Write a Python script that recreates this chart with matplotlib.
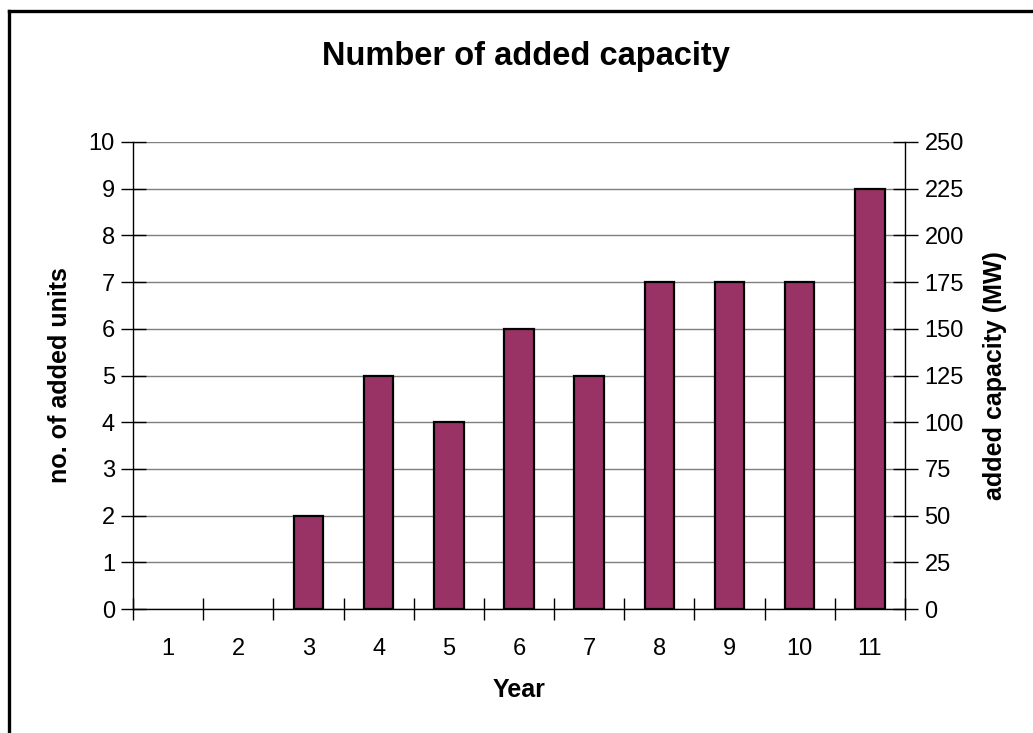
import matplotlib.pyplot as plt
from matplotlib.lines import Line2D

plt.rcParams["font.family"] = ["Liberation Sans", "DejaVu Sans"]

years = [1, 2, 3, 4, 5, 6, 7, 8, 9, 10, 11]
added_units = [0, 0, 2, 5, 4, 6, 5, 7, 7, 7, 9]
unit_ticks = [0, 1, 2, 3, 4, 5, 6, 7, 8, 9, 10]
capacity_ticks = [0, 25, 50, 75, 100, 125, 150, 175, 200, 225, 250]

BAR_COLOR = "#993366"
GRID_COLOR = "#7f7f7f"
TICK_SIZE = 17
LABEL_SIZE = 18

fig = plt.figure(figsize=(10.33, 7.33), dpi=100)
ax = fig.add_axes([133 / 1033, 1 - 609 / 733, (905 - 133) / 1033, (609 - 142) / 733])

bars = ax.bar(years, added_units, width=0.42, color=BAR_COLOR, edgecolor="black",
              linewidth=1.6, zorder=3)
# empty years have no visible column
for bar, value in zip(bars, added_units):
    if value == 0:
        bar.set_visible(False)

ax.set_xlim(0.5, 11.5)
ax.set_ylim(0, 10)
ax.set_yticks(unit_ticks)
ax.set_yticklabels([str(v) for v in unit_ticks], fontsize=TICK_SIZE)
ax.yaxis.grid(True, color=GRID_COLOR, linewidth=1.0, zorder=0)
ax.set_axisbelow(True)

# category labels centred, ticks on the boundaries between years
ax.set_xticks(years)
ax.set_xticklabels([str(y) for y in years], fontsize=TICK_SIZE)
ax.tick_params(axis="x", which="major", length=0, pad=21)
ax.set_xticks([0.5] + [y + 0.5 for y in years], minor=True)
ax.tick_params(axis="x", which="minor", direction="inout", length=16, width=1.0,
               color="black")
ax.tick_params(axis="y", direction="inout", length=18, width=1.0, pad=4,
               color="black")

for side in ("top", "right"):
    ax.spines[side].set_visible(False)
ax.spines["left"].set_color("black")
ax.spines["bottom"].set_color("black")
ax.spines["left"].set_linewidth(1.0)
ax.spines["bottom"].set_linewidth(1.0)

ax.set_xlabel("Year", fontsize=LABEL_SIZE, fontweight="bold", labelpad=13)
ax.set_ylabel("no. of added units", fontsize=LABEL_SIZE, fontweight="bold", labelpad=12)

ax2 = ax.twinx()
ax2.set_ylim(0, 250)
ax2.set_yticks(capacity_ticks)
ax2.set_yticklabels([str(v) for v in capacity_ticks], fontsize=TICK_SIZE)
ax2.tick_params(axis="y", direction="inout", length=18, width=1.0, pad=5,
                color="black")
for side in ("top", "left", "bottom"):
    ax2.spines[side].set_visible(False)
ax2.spines["right"].set_color("black")
ax2.spines["right"].set_linewidth(1.0)
ax2.set_ylabel("added capacity (MW)", fontsize=LABEL_SIZE, fontweight="bold", labelpad=14)

fig.text(526 / 1033, 1 - 57 / 733, "Number of added capacity", ha="center",
         va="center", fontsize=23.5, fontweight="bold")

# chart frame: left and top edges
fig.add_artist(Line2D([9 / 1033, 9 / 1033], [0, 1 - 11 / 733],
                      transform=fig.transFigure, color="black", linewidth=2.4))
fig.add_artist(Line2D([9 / 1033, 1], [1 - 11 / 733, 1 - 11 / 733],
                      transform=fig.transFigure, color="black", linewidth=2.4))

fig.savefig("out.png", dpi=100)
